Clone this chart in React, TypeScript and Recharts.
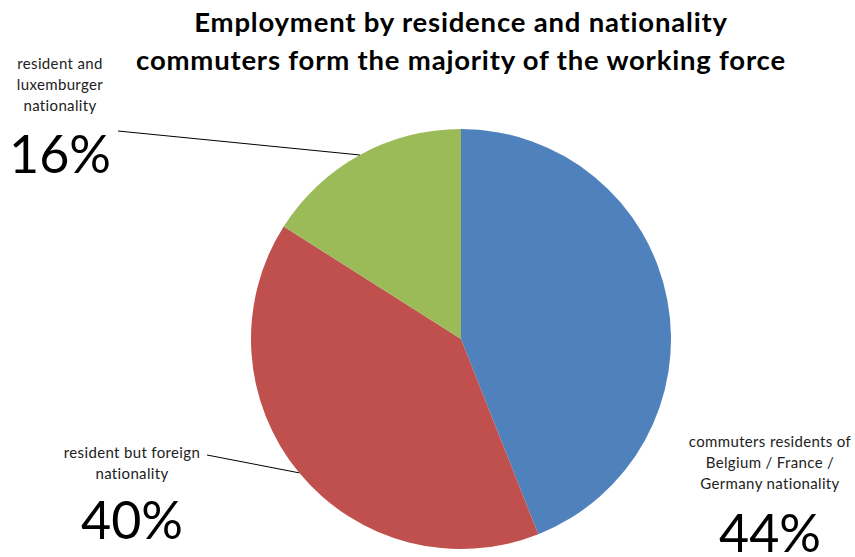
import React from "react";
import { PieChart, Pie, Cell } from "recharts";

const categories = [
  "commuters residents of Belgium / France / Germany nationality",
  "resident but foreign nationality",
  "resident and luxemburger nationality",
];
const shares = [44, 40, 16];
const labelLines = [
  ["commuters residents of", "Belgium / France /", "Germany  nationality"],
  ["resident but foreign", "nationality"],
  ["resident and", "luxemburger", "nationality"],
];
const titleLines = [
  "Employment by residence and nationality",
  "commuters form the majority of the working force",
];

const COLORS = ["#4F81BD", "#C0504D", "#9BBB59"];

// where each label block sits (x center, first line baseline, percent baseline, leader start)
const LAYOUT = [
  { x: 770, y: 447, py: 552, leader: null },
  { x: 132, y: 458, py: 539, leader: [207, 455] },
  { x: 60, y: 69, py: 173, leader: [118, 131] },
];

const RAD = Math.PI / 180;
const FONT = "Lato, 'Open Sans', sans-serif";

const data = categories.map((name, i) => ({ name, value: shares[i] }));

const renderLabel = (props: any) => {
  const { cx, cy, midAngle, outerRadius, index, percent } = props;
  const pos = LAYOUT[index];
  const ex = cx + outerRadius * Math.cos(-midAngle * RAD);
  const ey = cy + outerRadius * Math.sin(-midAngle * RAD);
  return (
    <g key={`lbl-${index}`}>
      {pos.leader && (
        <line x1={pos.leader[0]} y1={pos.leader[1]} x2={ex} y2={ey} stroke="#000" strokeWidth={1} />
      )}
      <text
        x={pos.x}
        y={pos.y}
        textAnchor="middle"
        fontFamily={FONT}
        fontSize={15}
        letterSpacing={0.35}
        fill="#222"
      >
        {labelLines[index].map((l, j) => (
          <tspan key={j} x={pos.x} dy={j === 0 ? 0 : 21}>
            {l}
          </tspan>
        ))}
      </text>
      <text x={pos.x} y={pos.py} textAnchor="middle" fontFamily={FONT} fontSize={52} fill="#000">
        {`${Math.round(percent * 100)}%`}
      </text>
    </g>
  );
};

const App = () => {
  return (
    <div style={{ position: "absolute", left: 0, top: 0, width: 855, height: 557, background: "#fff" }}>
      <div
        style={{
          position: "absolute",
          left: 0,
          top: 3,
          width: 922,
          textAlign: "center",
          fontFamily: FONT,
          fontWeight: 700,
          fontSize: 27.5,
          letterSpacing: 0.8,
          lineHeight: "38px",
          color: "#000",
        }}
      >
        {titleLines.map((t) => (
          <div key={t}>{t}</div>
        ))}
      </div>
      <PieChart width={855} height={557} margin={{ top: 0, right: 0, bottom: 0, left: 0 }}>
        <Pie
          data={data}
          dataKey="value"
          nameKey="name"
          cx={461}
          cy={339}
          outerRadius={210}
          startAngle={90}
          endAngle={-270}
          stroke="none"
          label={renderLabel}
          labelLine={false}
          isAnimationActive={false}
        >
          {data.map((_, i) => (
            <Cell key={`cell-${i}`} fill={COLORS[i]} />
          ))}
        </Pie>
      </PieChart>
    </div>
  );
};

export default App;
